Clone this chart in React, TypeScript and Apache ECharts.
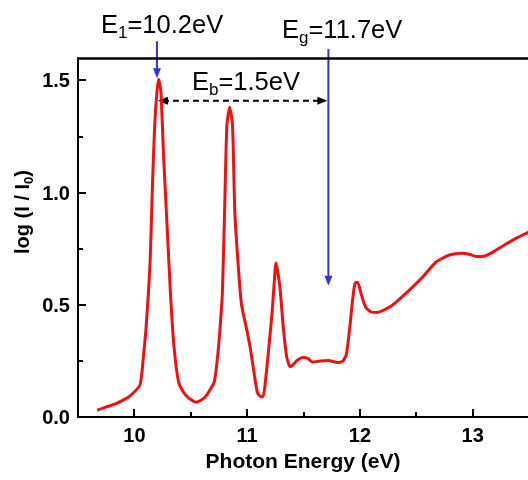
import React, { useEffect, useRef } from 'react';
import * as echarts from 'echarts';

const energy = [
  9.67, 9.75, 9.82, 9.9, 9.97, 10.05, 10.08, 10.1, 10.12, 10.14, 10.16, 10.18, 10.2, 10.215, 10.235,
  10.26, 10.29, 10.32, 10.35, 10.39, 10.43, 10.48, 10.55, 10.62, 10.67, 10.71, 10.74, 10.76, 10.78,
  10.8, 10.82, 10.845, 10.87, 10.89, 10.92, 10.95, 11.0, 11.03, 11.06, 11.09, 11.12, 11.14, 11.16,
  11.19, 11.22, 11.24, 11.255, 11.29, 11.32, 11.35, 11.38, 11.41, 11.45, 11.5, 11.54, 11.58, 11.65,
  11.72, 11.8, 11.85, 11.88, 11.91, 11.93, 11.96, 11.98, 12.01, 12.05, 12.1, 12.15, 12.27, 12.41,
  12.56, 12.68, 12.8, 12.91, 12.97, 13.03, 13.1, 13.18, 13.26, 13.38, 13.5,
];
const absorbance = [
  0.03, 0.045, 0.056, 0.075, 0.098, 0.143, 0.27, 0.375, 0.52, 0.7, 1.03, 1.3, 1.45, 1.505, 1.45,
  1.15, 0.85, 0.55, 0.32, 0.16, 0.115, 0.085, 0.066, 0.085, 0.12, 0.16, 0.28, 0.4, 0.55,
  0.92, 1.3, 1.38, 1.3, 0.92, 0.68, 0.5, 0.38, 0.3, 0.2, 0.11, 0.09, 0.09, 0.15,
  0.3, 0.46, 0.6, 0.686, 0.58, 0.4, 0.27, 0.224, 0.235, 0.255, 0.265, 0.26, 0.245, 0.25,
  0.252, 0.243, 0.25, 0.28, 0.4, 0.5, 0.6, 0.6, 0.55, 0.49, 0.468, 0.466, 0.492, 0.552,
  0.626, 0.693, 0.723, 0.73, 0.725, 0.715, 0.716, 0.735, 0.76, 0.795, 0.825,
];
const xTickLabels = [10, 11, 12, 13];
const xMinorTicks = [10.5, 11.5, 12.5];
const yTickLabels = [0, 0.5, 1.0, 1.5];
const yMinorTicks = [0.25, 0.75, 1.25];

// annotation anchors (data units)
const peakE1 = 10.2;
const peakE1Value = 1.51;
const gapEg = 11.72;
const bindingY = 1.41;

const X_MIN = 9.5;
const X_MAX = 13.49;
const Y_MIN = 0;
const Y_MAX = 1.6;

const FONT = '"Liberation Sans", Arial, Helvetica, sans-serif';
const BLUE = '#2f35d8';

export default function App() {
  const ref = useRef<HTMLDivElement>(null);
  useEffect(() => {
    const chart = echarts.init(ref.current!, null, { renderer: 'svg' });
    const axisLineStyle = { color: '#000', width: 2 };
    const option: any = {
      animation: false,
      grid: { left: 78, top: 58, width: 450, height: 359, show: false, outerBoundsMode: 'none' },
      xAxis: [
        {
          type: 'value', min: X_MIN, max: X_MAX, position: 'bottom',
          axisLine: { show: true, onZero: false, lineStyle: axisLineStyle },
          axisTick: { show: false },
          axisLabel: { customValues: xTickLabels, color: '#000', fontSize: 20, fontWeight: 'bold', fontFamily: FONT, margin: 8 },
          splitLine: { show: false },
          name: 'Photon Energy (eV)', nameLocation: 'middle', nameGap: 31,
          nameTextStyle: { color: '#000', fontSize: 21, fontWeight: 'bold', fontFamily: FONT },
        },
        {
          type: 'value', min: X_MIN, max: X_MAX, position: 'top',
          axisLine: { show: true, onZero: false, lineStyle: { color: '#000', width: 2.5 } },
          axisTick: { show: false }, axisLabel: { show: false }, splitLine: { show: false },
        },
      ],
      yAxis: [
        {
          type: 'value', min: Y_MIN, max: Y_MAX, position: 'left',
          axisLine: { show: true, onZero: false, lineStyle: axisLineStyle },
          axisTick: { show: false },
          axisLabel: {
            customValues: yTickLabels, color: '#000', fontSize: 20, fontWeight: 'bold', fontFamily: FONT, margin: 8,
            formatter: (v: number) => v.toFixed(1),
          },
          splitLine: { show: false },
        },
      ],
      series: [
        {
          type: 'line',
          xAxisIndex: 0, yAxisIndex: 0,
          data: energy.map((e, i) => [e, absorbance[i]]),
          showSymbol: false,
          smooth: 0.2,
          lineStyle: { color: '#f01010', width: 3 },
          clip: true,
        },
      ],
    };
    chart.setOption(option);

    const px = (x: number, y: number) => chart.convertToPixel({ seriesIndex: 0 }, [x, y]) as number[];
    const e1Tip = px(peakE1, peakE1Value);
    const e1Start = px(peakE1, 1.675);
    const egTop = px(gapEg, 1.64);
    const egTip = px(gapEg, 0.585);
    const dL = px(peakE1, bindingY);
    const dR = px(gapEg, bindingY);

    const head = (tx: number, ty: number, dx: number, dy: number, color: string) => {
      const L = 10, W = 4;
      const bx = tx - dx * L, by = ty - dy * L;
      return {
        type: 'polygon',
        shape: { points: [[tx, ty], [bx - dy * W, by + dx * W], [bx + dy * W, by - dx * W]] },
        style: { fill: color },
        silent: true,
      };
    };

    // axis ticks (inside), placed through the chart's own scales
    const ticks: any[] = [];
    const xTick = (v: number, len: number) => {
      const p = px(v, Y_MIN);
      ticks.push({
        type: 'rect', z: 50,
        shape: { x: Math.round(p[0]) - 1, y: Math.round(p[1]) - len, width: 2, height: len },
        style: { fill: '#000' }, silent: true,
      });
    };
    const yTick = (v: number, len: number) => {
      const p = px(X_MIN, v);
      ticks.push({
        type: 'rect', z: 50,
        shape: { x: Math.round(p[0]), y: Math.round(p[1]) - 1, width: len, height: 2 },
        style: { fill: '#000' }, silent: true,
      });
    };
    xTickLabels.forEach((v) => xTick(v, 8));
    xMinorTicks.forEach((v) => xTick(v, 5));
    yTickLabels.forEach((v) => yTick(v, 8));
    yMinorTicks.forEach((v) => yTick(v, 5));

    const sub = { fontSize: 17, lineHeight: 16, verticalAlign: 'bottom', fontFamily: FONT, fill: '#000' };
    const main = { fontSize: 25.5, lineHeight: 34, fontFamily: FONT, fill: '#000' };

    chart.setOption({
      graphic: [
        ...ticks,
        { type: 'line', shape: { x1: e1Start[0], y1: e1Start[1], x2: e1Tip[0], y2: e1Tip[1] - 8 }, style: { stroke: BLUE, lineWidth: 2 }, silent: true },
        head(e1Tip[0], e1Tip[1], 0, 1, BLUE),
        { type: 'line', shape: { x1: egTop[0], y1: egTop[1], x2: egTip[0], y2: egTip[1] - 8 }, style: { stroke: BLUE, lineWidth: 2 }, silent: true },
        head(egTip[0], egTip[1], 0, 1, BLUE),
        { type: 'line', shape: { x1: dL[0] + 6, y1: dL[1], x2: dR[0] - 6, y2: dR[1] }, style: { stroke: '#000', lineWidth: 2, lineDash: [6, 4] }, silent: true },
        head(dL[0] + 1, dL[1], -1, 0, '#000'),
        head(dR[0] - 1, dR[1], 1, 0, '#000'),
        {
          type: 'text', x: 101, y: 7,
          style: { text: '{m|E}{s|1}{m|=10.2eV}', rich: { m: main, s: sub }, fill: '#000' },
          silent: true,
        },
        {
          type: 'text', x: 282, y: 12,
          style: { text: '{m|E}{s|g}{m|=11.7eV}', rich: { m: main, s: sub }, fill: '#000' },
          silent: true,
        },
        {
          type: 'text', x: 192, y: 64,
          style: { text: '{m|E}{s|b}{m|=1.5eV}', rich: { m: main, s: sub }, fill: '#000' },
          silent: true,
        },
        {
          type: 'text', x: 22, y: 212, rotation: Math.PI / 2,
          style: {
            text: '{m|log (I / I}{s|0}{m|)}',
            rich: {
              m: { fontSize: 20, lineHeight: 26, fontWeight: 'bold', fontFamily: FONT, fill: '#000' },
              s: { fontSize: 13, lineHeight: 12, fontWeight: 'bold', verticalAlign: 'bottom', fontFamily: FONT, fill: '#000' },
            },
            align: 'center', verticalAlign: 'middle', textAlign: 'center', textVerticalAlign: 'middle',
          },
          silent: true,
        },
      ],
    });

    return () => chart.dispose();
  }, []);
  return <div ref={ref} style={{ position: 'fixed', left: 0, top: 0, width: 528, height: 480 }} />;
}
